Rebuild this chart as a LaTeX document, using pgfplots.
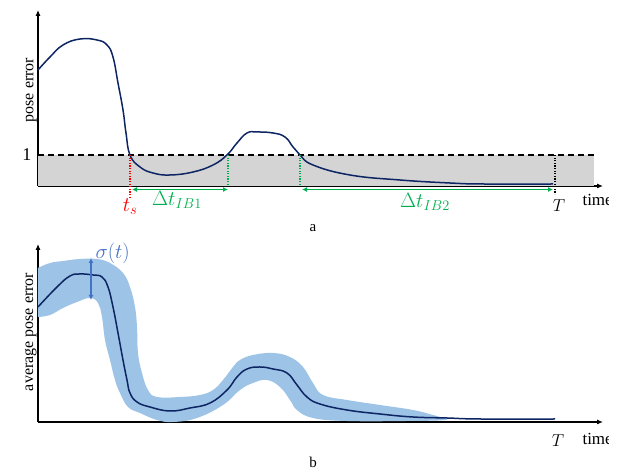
\documentclass[border=0pt]{standalone}
\usepackage{pgfplots}
\pgfplotsset{compat=1.18}
\usepackage{fontspec}
\setmainfont{Liberation Serif}
\usetikzlibrary{arrows.meta}
\definecolor{navy}{HTML}{0D2563}
\definecolor{bandblue}{HTML}{9DC3E6}
\definecolor{sigblue}{HTML}{4472C4}
\definecolor{offgreen}{HTML}{00B050}
\definecolor{bggray}{HTML}{D4D4D4}
\newcommand{\fs}[1]{\fontsize{#1}{#1}\selectfont}
\begin{document}
\begin{tikzpicture}
\path[use as bounding box] (0pt,0pt) rectangle (630pt,470pt);
\clip (0pt,0pt) rectangle (608pt,470pt);
\pgfplotsset{
  base/.style={
    scale only axis, anchor=south west, width=565pt,
    xmin=0, xmax=565, ymin=0,
    axis x line=bottom, axis y line=left,
    axis line style={line width=1.1pt, -{Latex[length=6pt,width=5pt]}},
    xtick=\empty, major tick length=0pt,
    clip=false,
  }
}
% ---------------- panel a ----------------
\begin{axis}[base, at={(38pt,284pt)}, height=176pt, ymax=176,
  ytick={31}, yticklabels={1},
  yticklabel style={font=\fs{18}, xshift=-3pt},
  /pgf/number format/assume math mode=true,
  ylabel={pose error},
  ylabel style={font=\fs{16}, at={(axis description cs:-0.002,0.545)}, anchor=south, inner sep=0pt},
]
\addplot[fill=bggray, draw=none] coordinates {(0,0) (556,0) (556,31) (0,31)};
\addplot[black, line width=1.2pt, dash pattern=on 6pt off 4pt] coordinates {(0,31) (556,31)};
\addplot[navy, line width=1.5pt, smooth, tension=0.75] coordinates {
(0,116) (12,129) (25,141) (42,147) (59,146) (69,141) (75,129) (80,103) (85,76) (88,53)
(92,31) (102,19) (115,13) (132,11) (155,14) (175,21) (189,31) (199,43) (209,53) (219,54)
(235,53) (247,49) (255,39) (262,31) (275,21) (312,11) (362,6) (412,3) (445,2) (515,2)};
\addplot[red, line width=1.3pt, dash pattern=on 1.3pt off 1.3pt] coordinates {(92,31) (92,-11)};
\addplot[offgreen, line width=1.3pt, dash pattern=on 1.3pt off 1.3pt] coordinates {(190,31) (190,0)};
\addplot[offgreen, line width=1.3pt, dash pattern=on 1.3pt off 1.3pt] coordinates {(262,31) (262,0)};
\addplot[black, line width=1.3pt, dash pattern=on 1.3pt off 1.3pt] coordinates {(517,31) (517,-8)};
\addplot[offgreen, line width=1.4pt, {Latex[length=5pt,width=5pt]}-{Latex[length=5pt,width=5pt]}] coordinates {(94,-3.5) (190,-3.5)};
\addplot[offgreen, line width=1.4pt, {Latex[length=5pt,width=5pt]}-{Latex[length=5pt,width=5pt]}] coordinates {(264,-3.5) (515,-3.5)};
\node[red, font=\fs{20}] at (axis cs:92,-21) {$t_s$};
\node[offgreen, font=\fs{20}] at (axis cs:139,-14) {$\Delta t_{IB1}$};
\node[offgreen, font=\fs{20}] at (axis cs:387,-16) {$\Delta t_{IB2}$};
\node[font=\fs{19}] at (axis cs:521,-20) {$T$};
\node[font=\fs{17}, anchor=base west] at (axis cs:541,-20) {time};
\end{axis}
% ---------------- panel b ----------------
\begin{axis}[base, at={(38pt,48pt)}, height=178pt, ymax=178,
  ytick=\empty,
  ylabel={average pose error},
  ylabel style={font=\fs{16}, at={(axis description cs:-0.002,0.506)}, anchor=south, inner sep=0pt},
]
\addplot[fill=bandblue, draw=none, smooth, tension=0.7] coordinates {
(0,154) (12,159) (25,161) (42,163) (59,163) (72,159) (85,149) (92,135) (97,115) (99,95)
(100,69) (104,49) (110,32) (119,25) (142,25) (162,27) (175,32) (185,42) (195,55) (202,62)
(215,67) (235,69) (252,65) (265,55) (275,39) (285,27) (309,22) (342,17) (375,12) (395,7)
(402,5) (407,2)
(369,1) (309,1) (275,4) (259,12) (252,22) (242,35) (229,42) (215,39) (202,32) (185,17)
(159,4) (135,0) (119,2) (102,9) (90,15) (82,29) (77,42) (72,62) (67,82) (64,105)
(60,119) (52,124) (39,120) (25,114) (12,107) (0,105)};
\addplot[navy, line width=1.5pt, smooth, tension=0.75] coordinates {
(0,115) (19,135) (32,146) (42,148) (55,147) (64,145) (70,135) (75,115) (80,89) (85,62)
(89,42) (92,29) (99,20) (112,15) (132,11) (152,14) (172,19) (189,32) (199,45) (209,53)
(222,55) (235,53) (249,49) (259,37) (269,25) (282,18) (309,12) (342,8) (375,5) (409,4)
(442,3) (517,3)};
\addplot[sigblue, line width=1.2pt, {Latex[length=5pt,width=5pt]}-{Latex[length=5pt,width=5pt]}] coordinates {(53,164) (53,122)};
\node[sigblue, font=\fs{21}, anchor=west] at (axis cs:54,169) {$\sigma(t)$};
\node[font=\fs{19}] at (axis cs:520,-19) {$T$};
\node[font=\fs{17}, anchor=base west] at (axis cs:541,-23) {time};
\end{axis}
\node[font=\fs{15}] at (313pt,242pt) {a};
\node[font=\fs{15}] at (313pt,8pt) {b};
\end{tikzpicture}
\end{document}
